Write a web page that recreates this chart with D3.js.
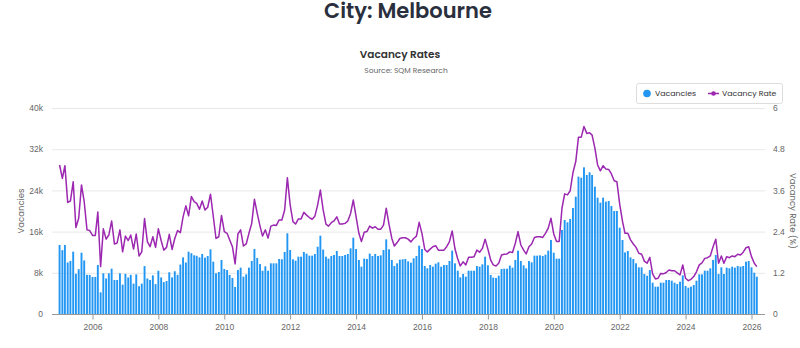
<!DOCTYPE html>
<html>
<head>
<meta charset="utf-8">
<script src="https://cdn.jsdelivr.net/npm/d3@7/dist/d3.min.js"></script>
<style>
  html, body { margin: 0; padding: 0; background: #fff; }
  svg { display: block; font-family: "Poppins", "Open Sans", sans-serif; }
</style>
</head>
<body>
<svg id="chart" width="800" height="348"></svg>
<script>
// ---------------- DATA ----------------
const startMonth = "2005-01";      // first monthly observation
const monthCount = 255;            // Jan 2005 .. Mar 2026

// Vacancies (thousands of dwellings), monthly
const vacancies = [
  13.4, 12.4, 13.4, 10.0, 10.3, 12.1, 7.8, 8.7, 11.9, 10.4, 7.6, 7.6,
  7.2, 7.2, 9.5, 4.2, 7.9, 6.9, 7.9, 8.8, 6.6, 6.6, 7.9, 5.7,
  7.8, 7.1, 7.6, 5.9, 7.7, 5.4, 5.9, 9.3, 6.9, 6.6, 7.5, 5.8,
  8.4, 7.1, 6.2, 6.4, 8.1, 7.1, 8.3, 7.6, 9.6, 11.0, 10.0, 12.1,
  11.8, 11.4, 11.3, 11.0, 11.65, 10.94, 11.26, 12.56, 10.16, 7.9, 8.16, 10.49,
  8.74, 8.54, 7.57, 6.99, 5.24, 8.54, 9.0, 7.25, 7.7, 9.0, 10.29, 12.62,
  10.87, 9.7, 8.4, 9.26, 8.4, 9.84, 9.84, 9.84, 10.68, 10.62, 12.04, 15.67,
  12.43, 10.62, 10.36, 11.13, 11.13, 12.04, 11.72, 11.33, 11.33, 11.65, 13.07, 15.2,
  12.5, 11.13, 10.75, 11.26, 11.46, 12.23, 11.26, 11.26, 11.46, 11.65, 12.75, 14.82,
  12.62, 10.49, 9.19, 10.75, 10.68, 11.72, 11.26, 11.65, 11.26, 11.39, 12.43, 14.5,
  12.56, 10.49, 9.32, 9.84, 10.55, 10.62, 10.68, 10.23, 9.97, 10.81, 11.26, 13.27,
  12.62, 9.32, 8.87, 9.51, 9.19, 9.77, 10.03, 9.19, 9.51, 9.51, 10.29, 12.3,
  9.84, 8.41, 7.12, 7.77, 7.25, 8.41, 8.41, 8.41, 9.32, 9.19, 9.64, 11.13,
  9.45, 7.57, 7.06, 6.99, 7.44, 8.74, 8.8, 8.8, 9.39, 9.0, 10.49, 12.3,
  10.29, 9.45, 8.87, 10.29, 10.03, 11.33, 11.33, 11.39, 11.26, 11.52, 12.3, 14.37,
  11.91, 10.75, 10.75, 16.31, 18.25, 17.8, 18.45, 20.58, 22.78, 26.67, 26.47, 28.48,
  26.99, 27.51, 26.99, 24.72, 22.59, 21.62, 22.59, 21.81, 21.94, 20.97, 20.0, 20.0,
  16.76, 14.37, 11.97, 12.23, 11.0, 10.68, 9.84, 9.06, 9.06, 7.77, 7.44, 8.54,
  6.08, 5.31, 5.31, 6.08, 6.08, 6.6, 6.6, 6.47, 6.08, 5.83, 6.28, 7.51,
  5.44, 5.11, 5.31, 5.63, 6.47, 7.7, 7.7, 8.41, 8.41, 8.87, 10.49, 11.46,
  7.77, 9.06, 7.77, 9.0, 8.87, 9.19, 9.0, 9.32, 9.19, 9.32, 10.16, 10.29,
  9.06, 8.02, 7.25
];

// Vacancy rate (%), monthly
const vacancyRate = [
  4.34, 3.95, 4.32, 3.25, 3.29, 3.85, 2.52, 2.79, 3.76, 3.27, 2.45, 2.43,
  2.29, 2.29, 2.97, 1.38, 2.48, 2.18, 2.30, 2.71, 2.04, 2.07, 2.45, 1.81,
  2.27, 2.14, 2.30, 1.89, 2.33, 1.69, 1.81, 2.78, 2.11, 1.96, 2.25, 1.94,
  2.48, 2.14, 1.86, 1.94, 2.32, 1.88, 2.20, 2.43, 2.37, 2.83, 3.15, 2.86,
  3.42, 3.27, 3.22, 3.05, 3.29, 3.03, 3.11, 3.49, 2.84, 2.20, 2.25, 2.87,
  2.40, 2.35, 2.16, 1.96, 1.46, 2.33, 2.45, 1.98, 2.04, 2.35, 2.64, 3.34,
  2.93, 2.56, 2.27, 2.45, 2.21, 2.56, 2.59, 2.58, 2.74, 2.74, 3.03, 3.97,
  3.18, 2.69, 2.62, 2.77, 2.77, 2.96, 2.88, 2.81, 2.76, 2.85, 3.18, 3.61,
  3.03, 2.62, 2.56, 2.66, 2.71, 2.83, 2.62, 2.62, 2.64, 2.71, 2.93, 3.32,
  2.83, 2.35, 2.11, 2.38, 2.40, 2.56, 2.50, 2.54, 2.47, 2.47, 2.59, 3.08,
  2.61, 2.20, 1.98, 2.08, 2.20, 2.22, 2.22, 2.18, 2.10, 2.20, 2.27, 2.67,
  2.35, 1.88, 1.81, 1.89, 1.96, 1.99, 1.86, 1.86, 1.86, 1.96, 2.11, 2.42,
  1.90, 1.60, 1.40, 1.52, 1.43, 1.65, 1.65, 1.67, 1.86, 1.80, 1.91, 2.18,
  1.89, 1.57, 1.43, 1.40, 1.48, 1.72, 1.74, 1.75, 1.81, 1.79, 2.06, 2.40,
  2.01, 1.86, 1.75, 1.96, 2.04, 2.23, 2.25, 2.25, 2.23, 2.35, 2.50, 2.79,
  2.33, 2.11, 2.11, 3.08, 3.50, 3.47, 3.59, 4.12, 4.44, 5.15, 5.15, 5.46,
  5.26, 5.28, 5.21, 4.83, 4.34, 4.17, 4.32, 4.22, 4.21, 4.08, 3.88, 3.85,
  3.20, 2.70, 2.35, 2.35, 2.16, 2.04, 1.94, 1.77, 1.74, 1.54, 1.48, 1.65,
  1.17, 1.02, 1.04, 1.18, 1.17, 1.21, 1.28, 1.26, 1.26, 1.20, 1.14, 1.43,
  1.04, 0.97, 1.01, 1.09, 1.23, 1.43, 1.49, 1.62, 1.64, 1.69, 1.96, 2.18,
  1.48, 1.69, 1.48, 1.67, 1.64, 1.69, 1.67, 1.74, 1.72, 1.80, 1.93, 1.96,
  1.67, 1.48, 1.38
];

const leftTicks = [0, 8000, 16000, 24000, 32000, 40000];
const leftTickLabels = ["0", "8k", "16k", "24k", "32k", "40k"];
const rightTicks = [0, 1.2, 2.4, 3.6, 4.8, 6];
const rightTickLabels = ["0", "1.2", "2.4", "3.6", "4.8", "6"];
const yearTicks = [2006, 2008, 2010, 2012, 2014, 2016, 2018, 2020, 2022, 2024, 2026];

const titleText = "City: Melbourne";
const subtitleText = "Vacancy Rates";
const sourceText = "Source: SQM Research";
const seriesNames = ["Vacancies", "Vacancy Rate"];

// ---------------- CHART ----------------
const barColor = "#2196F3";
const lineColor = "#9C27B0";
const parseMonth = d3.timeParse("%Y-%m");
const firstDate = parseMonth(startMonth);
const dates = d3.range(monthCount).map(i => d3.timeMonth.offset(firstDate, i));
const data = dates.map((d, i) => ({ date: d, vac: vacancies[i] * 1000, rate: vacancyRate[i] }));

const svg = d3.select("#chart");
const plot = { left: 52, right: 765, top: 108, bottom: 314 };

const x = d3.scaleTime()
  .domain([new Date(2006, 0, 1), new Date(2026, 0, 1)])
  .range([92.5, 751.5]);
const yL = d3.scaleLinear().domain([0, 40000]).range([plot.bottom, plot.top]);
const yR = d3.scaleLinear().domain([0, 6]).range([plot.bottom, plot.top]);

// Titles
svg.append("text").attr("x", 408).attr("y", 18).attr("text-anchor", "middle")
  .attr("font-size", 21).attr("font-weight", 600).attr("fill", "#2a2f3d").text(titleText);
svg.append("text").attr("x", 400).attr("y", 58).attr("text-anchor", "middle")
  .attr("font-size", 10.5).attr("font-weight", 600).attr("fill", "#333").text(subtitleText);
svg.append("text").attr("x", 406).attr("y", 73).attr("text-anchor", "middle")
  .attr("font-size", 7.5).attr("fill", "#666").text(sourceText);

// Gridlines
svg.append("g").selectAll("line").data(leftTicks.slice(1)).join("line")
  .attr("x1", plot.left).attr("x2", plot.right)
  .attr("y1", d => yL(d) + 0.5).attr("y2", d => yL(d) + 0.5)
  .attr("stroke", "#e8e8e8").attr("stroke-width", 1);

// Left axis
const gL = svg.append("g").attr("transform", `translate(${plot.left - 6},0)`)
  .call(d3.axisLeft(yL).tickValues(leftTicks).tickFormat((d, i) => leftTickLabels[i]).tickSize(0));
gL.select(".domain").remove();
gL.selectAll("text").attr("font-size", 8.5).attr("fill", "#666").attr("font-family", null);

// Right axis
const gR = svg.append("g").attr("transform", `translate(${plot.right + 5},0)`)
  .call(d3.axisRight(yR).tickValues(rightTicks).tickFormat((d, i) => rightTickLabels[i]).tickSize(0));
gR.select(".domain").remove();
gR.selectAll("text").attr("font-size", 8.5).attr("fill", "#666").attr("font-family", null);

// Axis titles
svg.append("text").attr("transform", `translate(24,211) rotate(-90)`).attr("text-anchor", "middle")
  .attr("font-size", 8.5).attr("fill", "#666").text(seriesNames[0]);
svg.append("text").attr("transform", `translate(790,211) rotate(90)`).attr("text-anchor", "middle")
  .attr("font-size", 8.5).attr("fill", "#666").text("Vacancy Rate (%)");

// Bars
const barW = 1.9;
svg.append("g").selectAll("rect").data(data).join("rect")
  .attr("x", d => x(d.date) - barW / 2)
  .attr("width", barW)
  .attr("y", d => yL(d.vac))
  .attr("height", d => yL(0) - yL(d.vac))
  .attr("fill", barColor);

// X axis
const gX = svg.append("g").attr("transform", `translate(0,${plot.bottom + 0.5})`)
  .call(d3.axisBottom(x).tickValues(yearTicks.map(y => new Date(y, 0, 1)))
    .tickFormat(d3.timeFormat("%Y")).tickSize(5).tickSizeOuter(0).tickPadding(4));
gX.select(".domain").remove();
gX.selectAll(".tick line").attr("stroke", "#999");
gX.selectAll("text").attr("font-size", 8.5).attr("fill", "#666").attr("font-family", null);
svg.append("line").attr("x1", plot.left).attr("x2", plot.right)
  .attr("y1", plot.bottom + 0.5).attr("y2", plot.bottom + 0.5)
  .attr("stroke", "#999").attr("stroke-width", 1);

// Line
const line = d3.line().x(d => x(d.date)).y(d => yR(d.rate));
svg.append("path").datum(data).attr("d", line)
  .attr("fill", "none").attr("stroke", lineColor).attr("stroke-width", 1.5)
  .attr("stroke-linejoin", "round");

// Legend
const lg = svg.append("g").attr("transform", "translate(636,83)");
lg.append("rect").attr("x", 0.5).attr("y", 0.5).attr("width", 146).attr("height", 20)
  .attr("rx", 2).attr("fill", "#fff").attr("stroke", "#ddd");
lg.append("circle").attr("cx", 11).attr("cy", 10.5).attr("r", 3.8).attr("fill", barColor);
lg.append("text").attr("x", 19).attr("y", 13.3).attr("font-size", 7.8).attr("fill", "#333").text(seriesNames[0]);
lg.append("line").attr("x1", 72).attr("x2", 83).attr("y1", 10.5).attr("y2", 10.5)
  .attr("stroke", lineColor).attr("stroke-width", 1.5);
lg.append("circle").attr("cx", 77.5).attr("cy", 10.5).attr("r", 2.3).attr("fill", lineColor);
lg.append("text").attr("x", 86).attr("y", 13.3).attr("font-size", 7.8).attr("fill", "#333").text(seriesNames[1]);
</script>
</body>
</html>
